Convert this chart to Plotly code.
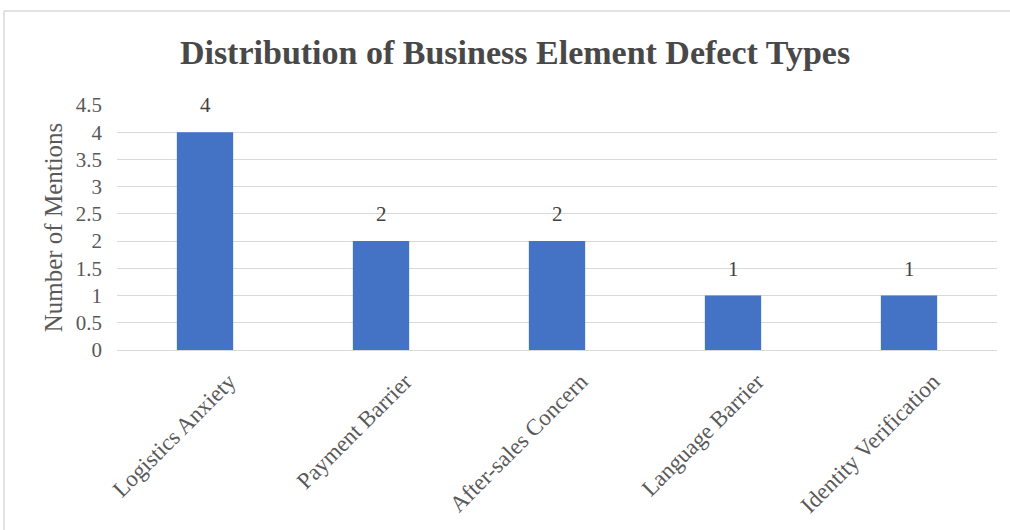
import plotly.graph_objects as go

categories = ["Logistics Anxiety", "Payment Barrier", "After-sales Concern", "Language Barrier", "Identity Verification"]
mentions = [4, 2, 2, 1, 1]
y_ticks = [0, 0.5, 1, 1.5, 2, 2.5, 3, 3.5, 4, 4.5]
y_tick_text = ["0", "0.5", "1", "1.5", "2", "2.5", "3", "3.5", "4", "4.5"]

FONT = "Liberation Serif, Times New Roman, serif"

L, R, T, B = 117, 13, 105, 180
W, H = 1010, 530
pw, ph = W - L - R, H - T - B

def px_x(px):
    return (px - L) / pw

def px_y(py):
    return (H - B - py) / ph

fig = go.Figure(go.Bar(
    x=categories, y=mentions, width=0.32,
    marker=dict(color="#4472C4", line=dict(width=0)),
))

for c, v in zip(categories, mentions):
    fig.add_annotation(x=c, y=v, text=str(v), showarrow=False,
                       xanchor="center", yanchor="middle", yshift=27,
                       font=dict(family=FONT, size=21, color="#404040"))

fig.update_layout(
    width=W, height=H,
    margin=dict(l=L, r=R, t=T, b=B),
    paper_bgcolor="white", plot_bgcolor="white",
    showlegend=False,
    title=dict(text="<b>Distribution of Business Element Defect Types</b>",
               x=px_x(515), xref="paper", xanchor="center",
               y=1 - 52 / H, yanchor="middle",
               font=dict(family=FONT, size=34, color="#484848")),
    font=dict(family=FONT, color="#595959"),
    bargap=0.68,
    xaxis=dict(tickangle=-45, tickfont=dict(family=FONT, size=23, color="#595959"),
               showgrid=False, showline=True, linecolor="#d9d9d9", linewidth=1,
               ticks="", ticklen=0, ticklabelstandoff=8, ticklabelshift=24),
    yaxis=dict(range=[0, 4.5], tickvals=y_ticks, ticktext=y_tick_text,
               tickfont=dict(family=FONT, size=21, color="#595959"),
               showgrid=True, gridcolor="#d9d9d9", gridwidth=1,
               zeroline=False, showline=False, ticks="", ticklabelstandoff=14,
               title=dict(text="Number of Mentions", standoff=6,
                          font=dict(family=FONT, size=25, color="#595959"))),
    shapes=[
        dict(type="line", xref="paper", yref="paper",
             x0=px_x(4), x1=px_x(1012), y0=px_y(11), y1=px_y(11),
             line=dict(color="#d9d9d9", width=1.5)),
        dict(type="line", xref="paper", yref="paper",
             x0=px_x(4), x1=px_x(4), y0=px_y(11), y1=px_y(532),
             line=dict(color="#d9d9d9", width=1.5)),
    ],
)

fig.write_html("out.html")
